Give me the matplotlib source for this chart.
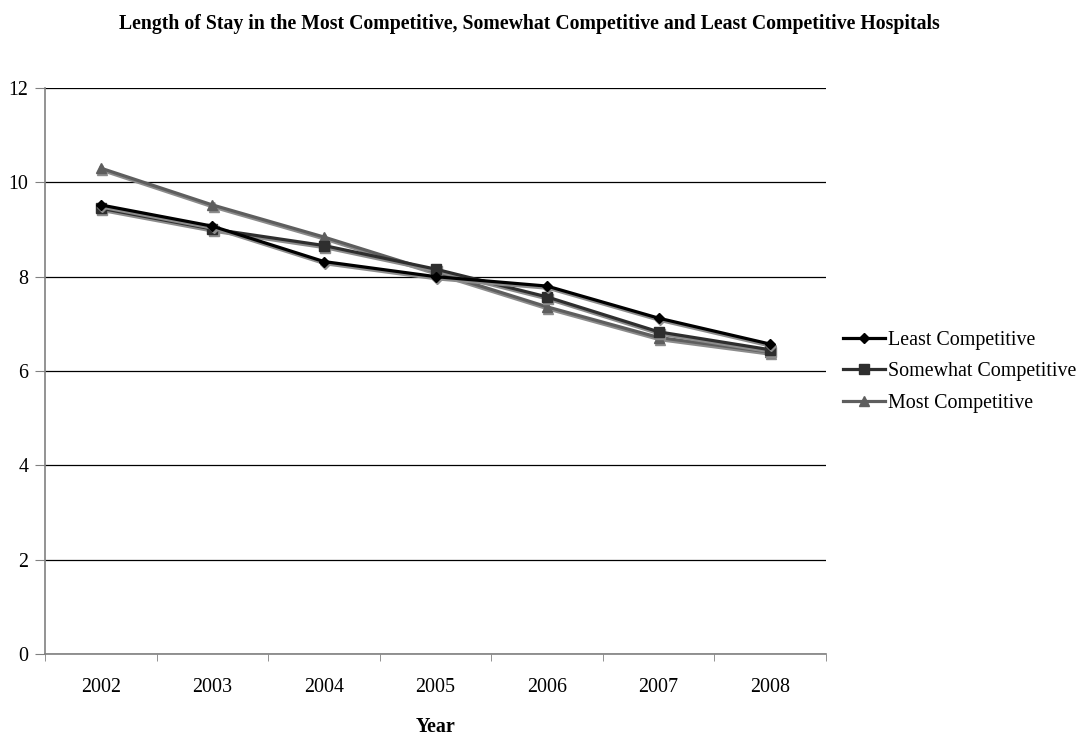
import numpy as np
import matplotlib as mpl
mpl.use('Agg')
import matplotlib.pyplot as plt
from matplotlib.transforms import offset_copy

mpl.rcParams.update({
    'font.family': 'serif',
    'font.serif': ['Liberation Serif', 'DejaVu Serif'],
})

# data
years = ['2002', '2003', '2004', '2005', '2006', '2007', '2008']
least = [9.52, 9.07, 8.32, 8.00, 7.80, 7.12, 6.57]
somewhat = [9.45, 9.01, 8.66, 8.16, 7.57, 6.83, 6.45]
most = [10.30, 9.52, 8.84, 8.10, 7.36, 6.71, 6.40]

fig = plt.figure(figsize=(10.88, 7.38), dpi=100)
ax = fig.add_axes([0.0414, 0.1138, 0.7178, 0.7670])

x = np.arange(len(years))
# excel-like drop shadow: same line shifted a little down/right in grey
shadow_tr = offset_copy(ax.transData, fig=fig, x=1.2, y=-2.2, units='dots')

series = [
    (least, 'black', 'D', 5.5, 'Least Competitive', 5),
    (somewhat, '#2e2e2e', 's', 6.5, 'Somewhat Competitive', 4),
    (most, '#5e5e5e', '^', 7.5, 'Most Competitive', 3),
]
for vals, col, mk, ms, lab, z in series:
    ax.plot(x, vals, color='#8c8c8c', lw=2.3, marker=mk, ms=ms, mec='#8c8c8c', mfc='#8c8c8c',
            transform=shadow_tr, zorder=z - 0.5)
    ax.plot(x, vals, color=col, lw=2.3, marker=mk, ms=ms, label=lab, zorder=z)

ax.set_xlim(-0.5, len(years) - 0.5)
ax.set_ylim(0, 12)
ax.set_yticks(np.arange(0, 13, 2))
ax.yaxis.grid(True, color='black', lw=0.9)
ax.set_axisbelow(True)

ax.set_xticks(x)
ax.set_xticklabels(years, fontsize=14.4)
ax.set_xticks(np.arange(-0.5, len(years)), minor=True)
ax.tick_params(axis='x', which='major', length=0, pad=17)
ax.tick_params(axis='x', which='minor', length=5, color='#808080')
ax.tick_params(axis='y', length=7, color='#808080', labelsize=14.4, pad=5)

for s in ['top', 'right']:
    ax.spines[s].set_visible(False)
for s in ['left', 'bottom']:
    ax.spines[s].set_color('#808080')
    ax.spines[s].set_linewidth(1.2)

ax.set_xlabel('Year', fontsize=14.4, fontweight='bold', labelpad=15)
fig.text(0.487, 0.967, 'Length of Stay in the Most Competitive, Somewhat Competitive and Least Competitive Hospitals',
         ha='center', va='center', fontsize=14.2, fontweight='bold')

leg = ax.legend(loc='center left', bbox_to_anchor=(0.7674, 0.496), bbox_transform=fig.transFigure,
                frameon=False, fontsize=14.4, handlelength=2.1, handletextpad=0.15,
                labelspacing=0.62, borderaxespad=0)

fig.savefig('out.png', dpi=100)
